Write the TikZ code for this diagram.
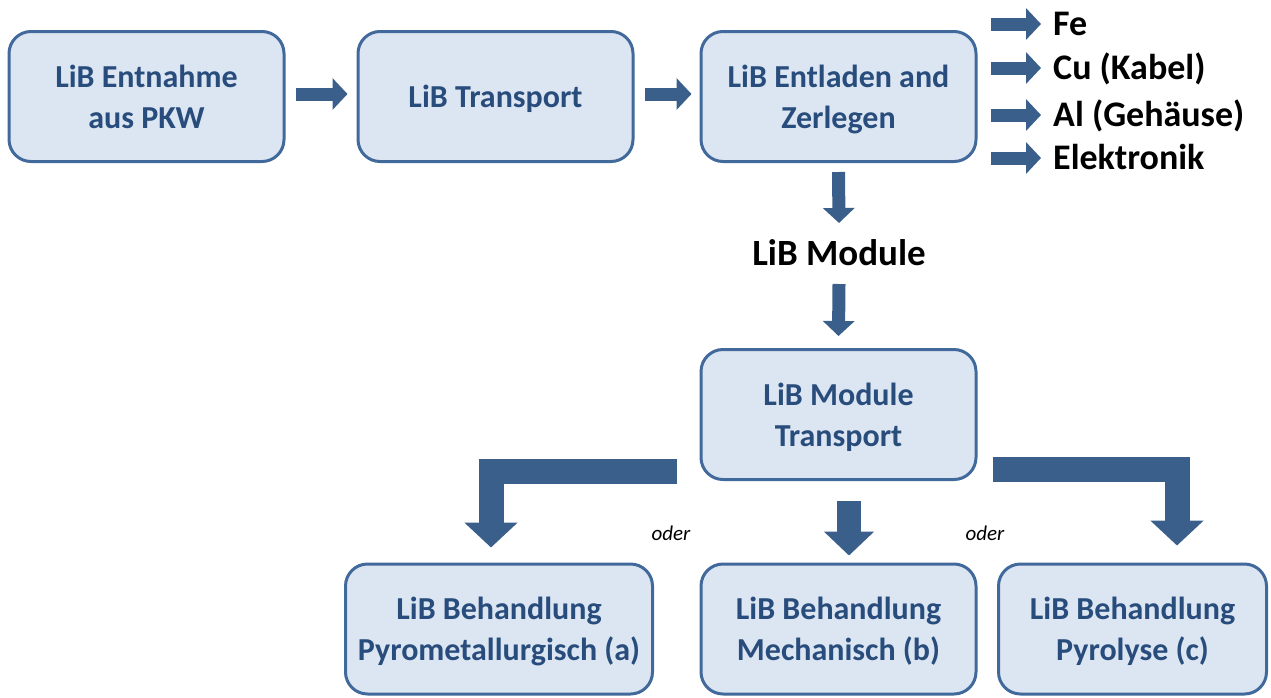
\documentclass[tikz,border=0pt]{standalone}
\usepackage{fontspec}
\setmainfont{Carlito}
\usetikzlibrary{arrows.meta,positioning}
\definecolor{boxfill}{RGB}{220,230,242}
\definecolor{boxline}{RGB}{65,105,155}
\definecolor{boxtext}{RGB}{40,76,124}
\definecolor{arrowblue}{RGB}{58,95,139}

\begin{document}
\begin{tikzpicture}[x=1pt,y=-1pt,
    stage/.style={
% The shape:
rectangle, rounded corners=22pt,
% The size:
minimum width=275pt, minimum height=130pt, inner sep=0pt,
% The border:
line width=3pt, draw=boxline, fill=boxfill,
% The text:
text=boxtext, align=center, text depth=0pt,
font=\fontsize{32}{41}\selectfont\bfseries,
},
    output/.style={
% The shape:
inner sep=0pt, anchor=base west,
% The text:
font=\fontsize{36}{40}\selectfont\bfseries,
},
    flow/.style={
% The border:
line width=13pt, draw=arrowblue,
-{Triangle[length=15pt,width=31pt]},
},
    wide flow/.style={
% The border:
line width=25pt, draw=arrowblue, line join=miter,
-{Triangle[length=25pt,width=52pt]},
},
]
  \useasboundingbox (0,0) rectangle (1271,697);
  \node[stage]                          (remove) at (146.5, 96.5)
    {LiB Entnahme\\aus PKW};
  \node[stage]                          (transport) at (495.5, 96.5)
    {LiB Transport};
  \node[stage]                          (discharge) at (838.5, 96.5)
    {LiB Entladen and\\Zerlegen};
  \node[font=\fontsize{37}{40}\selectfont\bfseries]
                                        (module) at (839, 253) {LiB Module};
  \node[stage]                          (modtransport) at (838.5, 414.5)
    {LiB Module\\Transport};
  \node[stage,minimum width=307pt]      (pyro) at (499, 629)
    {LiB Behandlung\\Pyrometallurgisch (a)};
  \node[stage]                          (mech) at (838.5, 629)
    {LiB Behandlung\\Mechanisch (b)};
  \node[stage,minimum width=268pt]      (pyrolysis) at (1132.5, 629)
    {LiB Behandlung\\Pyrolyse (c)};

  \node[output]                         (fe) at (1053, 35) {Fe};
  \node[output]                         (cu) at (1053, 79) {Cu (Kabel)};
  \node[output]                         (al) at (1053, 126) {Al (Gehäuse)};
  \node[output]                         (el) at (1053, 169) {Elektronik};

  \node[font=\fontsize{21}{24}\selectfont\itshape] (or1) at (671, 533) {oder};
  \node[font=\fontsize{21}{24}\selectfont\itshape] (or2) at (985, 533) {oder};

  \draw [flow] ([xshift=10pt,yshift=2.5pt]remove.east)
    -- ([xshift=-9pt,yshift=2.5pt]transport.west);
  \draw [flow] ([xshift=10pt,yshift=2.5pt]transport.east)
    -- ([xshift=-8pt,yshift=2.5pt]discharge.west);
  \draw [flow] ([shift={(-62,-11)}]fe.base west) -- ([shift={(-12,-11)}]fe.base west);
  \draw [flow] ([shift={(-62,-11)}]cu.base west) -- ([shift={(-12,-11)}]cu.base west);
  \draw [flow] ([shift={(-62,-11)}]al.base west) -- ([shift={(-12,-11)}]al.base west);
  \draw [flow] ([shift={(-62,-11)}]el.base west) -- ([shift={(-12,-11)}]el.base west);
  \draw [flow] ([yshift=-9pt]discharge.south) -- ([yshift=30pt]module.center);
  \draw [flow] ([yshift=-31pt]module.center) -- ([yshift=12pt]modtransport.north);
  \draw [wide flow,line width=24pt,-{Triangle[length=24pt,width=49pt]}]
    ([xshift=10.5pt,yshift=-20pt]modtransport.south)
    -- ([xshift=10.5pt,yshift=7pt]mech.north);
  \draw [wide flow] ([shift={(-23,-9.5)}]modtransport.south west)
    -| ([xshift=-8pt,yshift=15pt]pyro.north);
  \draw [wide flow] ([shift={(15,-11.5)}]modtransport.south east)
    -| ([xshift=44.5pt,yshift=17pt]pyrolysis.north);

\end{tikzpicture}
\end{document}
